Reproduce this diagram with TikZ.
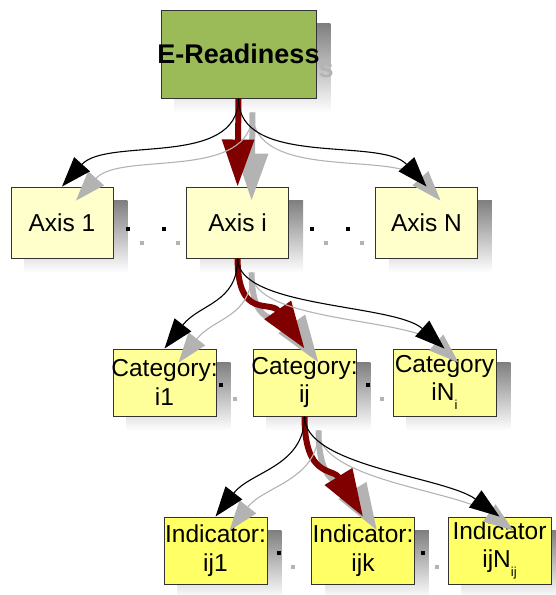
\documentclass[tikz,border=0pt]{standalone}
\usepackage{fontspec}
\setmainfont{Liberation Sans}
\usetikzlibrary{arrows.meta}
\pgfdeclarelayer{shadow}
\pgfsetlayers{shadow,main}

\definecolor{titlegreen}{HTML}{9BBB59}
\definecolor{axisfill}{HTML}{FFFFCC}
\definecolor{catfill}{HTML}{FFFF99}
\definecolor{indfill}{HTML}{FFFF66}
\definecolor{shade}{HTML}{B3B3B3}
\definecolor{boxline}{HTML}{333333}
\definecolor{mainred}{HTML}{800000}

\tikzset{
  box/.style={draw=boxline, line width=0.9pt, inner sep=0pt},
  titlebox/.style={box, fill=titlegreen, minimum width=155pt, minimum height=88pt},
  axisbox/.style={box, fill=axisfill, minimum width=102pt, minimum height=71pt},
  catbox/.style={box, fill=catfill, minimum width=103pt, minimum height=67pt},
  indbox/.style={box, fill=indfill, minimum width=103pt, minimum height=67pt},
  titletext/.style={inner sep=0pt, font=\fontsize{27}{30}\selectfont\bfseries},
  boxtext/.style={inner sep=0pt, align=center, font=\fontsize{24.5}{28.5}\selectfont},
  dotmark/.style={fill=black, inner sep=0pt, minimum size=4pt},
  dotshadow/.style={fill=shade, inner sep=0pt, minimum size=4pt},
  thinlink/.style={draw=black, line width=1.1pt, -{Triangle[length=30pt,width=21pt]}},
  thinshadow/.style={draw=shade, line width=1.1pt, -{Triangle[length=30pt,width=21pt]},
    transform canvas={shift={(14pt,-14pt)}}},
  redlink/.style={draw=mainred, line width=6pt, -{Triangle[length=47pt,width=31pt]}},
  redshadow/.style={draw=shade, line width=6pt, -{Triangle[length=47pt,width=31pt]},
    transform canvas={shift={(14pt,-14pt)}}},
}

\newcommand{\lowsub}[2]{#1\raisebox{-9pt}{\fontsize{13}{13}\selectfont #2}}

\begin{document}
\begin{tikzpicture}[x=1pt,y=-1pt]
\useasboundingbox (0,0) rectangle (556,595);

% boxes
\node[titlebox] (top) at (238.5,54) {};
\node[titletext] (toptext) at (top.center) {E-Readiness};

\node[axisbox, label={[boxtext]center:Axis 1}] (ax1) at (62,222.5) {};
\node[axisbox, label={[boxtext]center:Axis i}] (axi) at (237.6,222.5) {};
\node[axisbox, label={[boxtext]center:Axis N}] (axN) at (426.5,222.5) {};

\node[catbox, label={[boxtext]center:{Category:\\i1}}] (c1) at (164.5,382.5) {};
\node[catbox, label={[boxtext]center:{Category:\\ij}}] (cj) at (304.5,382.5) {};
\node[catbox, label={[boxtext]center:{Category\\\lowsub{iN}{i}}}] (cN) at (444.5,382.5) {};

\node[indbox, label={[boxtext]center:{Indicator:\\ij1}}] (d1) at (215.5,550.5) {};
\node[indbox, label={[boxtext]center:{Indicator:\\ijk}}] (dk) at (363,550.5) {};
\node[indbox, label={[boxtext]center:{Indicator\\\lowsub{ijN}{ij}}}] (dN) at (499.5,550.5) {};

% box shadows
\begin{pgfonlayer}{shadow}
  \foreach \n in {top,ax1,axi,axN,c1,cj,cN,d1,dk,dN}
    \fill[shade] ([shift={(14,14)}]\n.north west) rectangle ([shift={(14,14)}]\n.south east);
  \node[titletext, text=shade] (topshade) at ([shift={(14,14)}]top.center) {E-Readiness};
\end{pgfonlayer}

% ellipsis dots between sibling boxes
\foreach \x/\y [count=\i] in {128/229,164/229,311.7/229,348/229,221/385,368/385,279/553,423/553}{
  \node[dotshadow] (ds\i) at (\x+14,\y+14) {};
  \node[dotmark] (dm\i) at (\x,\y) {};
}

% level 1 connectors
\draw[redshadow] (top.south) -- (axi.north);
\draw[redlink] (top.south) -- (axi.north);
\draw[thinshadow] (top.south) .. controls +(0,70) and +(45,-50) .. (ax1.north);
\draw[thinlink] (top.south) .. controls +(0,70) and +(45,-50) .. (ax1.north);
\draw[thinshadow] (top.south) .. controls +(0,70) and +(-45,-50) .. (axN.north);
\draw[thinlink] (top.south) .. controls +(0,70) and +(-45,-50) .. (axN.north);

% level 2 connectors
\draw[redshadow] (axi.south) .. controls +(0,62) and +(-34,-49) .. (cj.north);
\draw[redlink] (axi.south) .. controls +(0,62) and +(-34,-49) .. (cj.north);
\draw[thinshadow] (axi.south) .. controls +(0,45) and +(35,-45) .. (c1.north);
\draw[thinlink] (axi.south) .. controls +(0,45) and +(35,-45) .. (c1.north);
\draw[thinshadow] (axi.south) .. controls +(0,50) and +(-50,-45) .. (cN.north);
\draw[thinlink] (axi.south) .. controls +(0,50) and +(-50,-45) .. (cN.north);

% level 3 connectors
\draw[redshadow] (cj.south) .. controls +(0,62) and +(-30,-49) .. (dk.north);
\draw[redlink] (cj.south) .. controls +(0,62) and +(-30,-49) .. (dk.north);
\draw[thinshadow] (cj.south) .. controls +(0,50) and +(35,-45) .. (d1.north);
\draw[thinlink] (cj.south) .. controls +(0,50) and +(35,-45) .. (d1.north);
\draw[thinshadow] (cj.south) .. controls +(0,50) and +(-55,-40) .. (dN.north);
\draw[thinlink] (cj.south) .. controls +(0,50) and +(-55,-40) .. (dN.north);
\end{tikzpicture}
\end{document}
